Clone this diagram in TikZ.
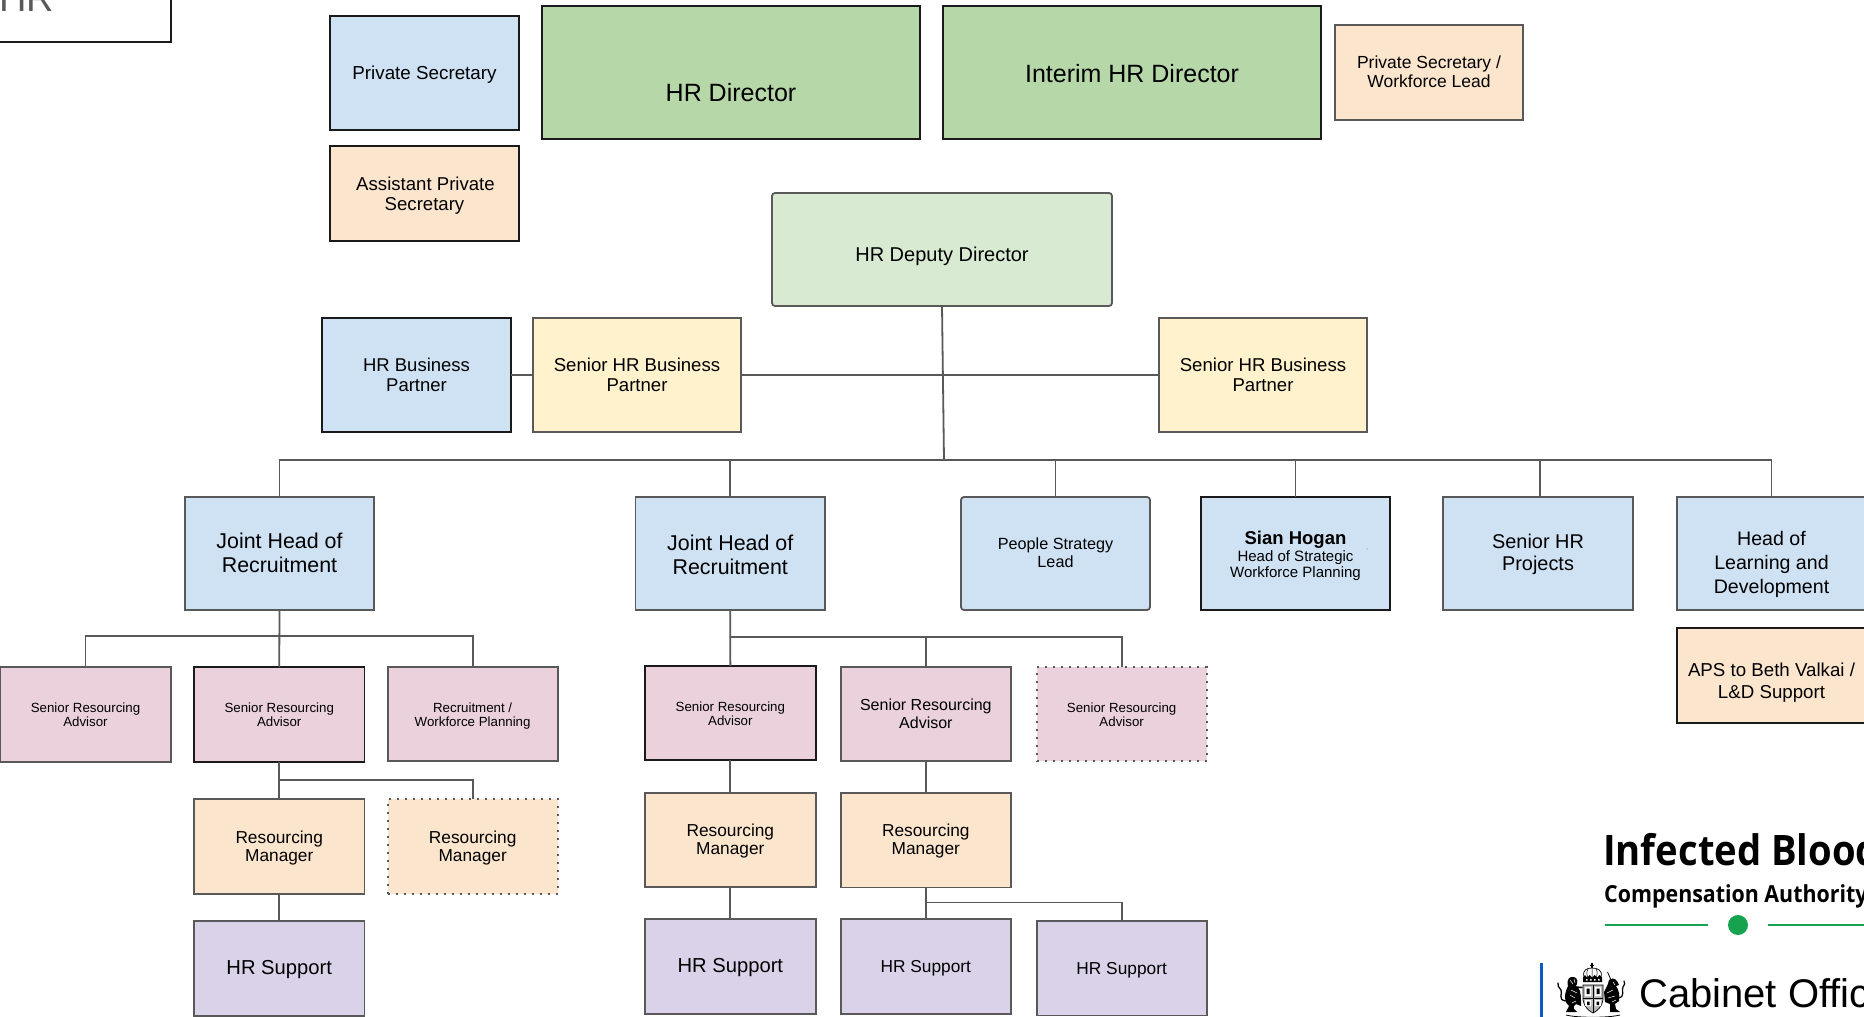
\documentclass[tikz,border=0pt]{standalone}
\usepackage{fontspec}
\setmainfont{Liberation Sans}
\newfontfamily\logofont[FakeStretch=0.91]{Open Sans}
\definecolor{cblue}{HTML}{CFE2F3}
\definecolor{cgreen}{HTML}{B6D7A8}
\definecolor{clgreen}{HTML}{D9EAD3}
\definecolor{cpeach}{HTML}{FCE5CD}
\definecolor{cyellow}{HTML}{FFF2CC}
\definecolor{cpink}{HTML}{EAD1DC}
\definecolor{cpurple}{HTML}{D9D2E9}
\definecolor{cgrey}{HTML}{595959}
\definecolor{cdark}{HTML}{1A1A1A}
\definecolor{logogreen}{HTML}{16A34F}
\definecolor{logoblue}{HTML}{0B5CC0}
\newcommand\fsz[2]{\fontsize{#1pt}{#2pt}\selectfont}
\tikzset{
  x=1pt,y=1pt,
  boxbase/.style={draw=cgrey,line width=1.8pt,inner sep=0pt,outer sep=0pt,text=black},
  darkbox/.style={draw=cdark},
  roundbox/.style={rounded corners=3pt},
  dotbox/.style={draw=cgrey,dash pattern=on 2pt off 6pt,line width=2pt},
  conn/.style={draw=cgrey,line width=1.8pt},
}
% name, x1, y1, x2, y2, style, text centre y, text
\newcommand\bx[8]{%
  \pgfmathsetmacro\bxcx{(#2+#4)/2}%
  \pgfmathsetmacro\bxcy{(#3+#5)/2}%
  \pgfmathsetmacro\bxw{#4-#2}%
  \pgfmathsetmacro\bxh{#5-#3}%
  \pgfmathsetmacro\bxdy{\bxcy-#7}%
  \node[boxbase,#6,minimum width=\bxw pt,minimum height=\bxh pt] (#1) at (\bxcx,-\bxcy)
    {\smash{\raisebox{\dimexpr\bxdy pt-.38em\relax}{\begin{tabular}[c]{@{}c@{}}#8\end{tabular}}}};%
}
\begin{document}
\begin{tikzpicture}
\useasboundingbox (0,0) rectangle (1864,-1017);
% title box
\bx{title}{-117}{-40}{171}{42}{darkbox,fill=white,text=cgrey,font=\fsz{38}{40}}{-5}{HR}
% top row
\bx{ps}{330}{16}{519}{130}{darkbox,fill=cblue,font=\fsz{18.8}{21}}{72}{Private Secretary}
\bx{aps}{330}{146}{519}{241}{darkbox,fill=cpeach,font=\fsz{18.6}{20}}{194}{\hspace{2pt}Assistant Private\\Secretary}
\bx{dir}{542}{6}{920}{139}{darkbox,fill=cgreen,font=\fsz{25}{28}}{93}{HR Director}
\bx{idir}{943}{6}{1321}{139}{darkbox,fill=cgreen,font=\fsz{25}{28}}{74}{Interim HR Director}
\bx{pswl}{1335}{25}{1523}{120}{fill=cpeach,font=\fsz{17.5}{18}}{72}{Private Secretary /\\Workforce Lead}
\bx{dep}{772}{193}{1112}{306}{roundbox,fill=clgreen,font=\fsz{20}{22}}{255}{HR Deputy Director}
% business partners
\bx{hrbp}{322}{318}{511}{432}{darkbox,fill=cblue,font=\fsz{18.5}{20}}{375}{HR Business\\Partner}
\bx{shrbpa}{533}{318}{741}{432}{fill=cyellow,font=\fsz{18.6}{20}}{375}{Senior HR Business\\Partner}
\bx{shrbpb}{1159}{318}{1367}{432}{fill=cyellow,font=\fsz{18.6}{20}}{375}{Senior HR Business\\Partner}
% heads
\bx{ja}{185}{497}{374}{610}{fill=cblue,font=\fsz{21.4}{24}}{553}{Joint Head of\\Recruitment}
\bx{jb}{635.5}{497}{825}{610}{fill=cblue,font=\fsz{21.4}{24}}{555}{Joint Head of\\Recruitment}
\bx{peo}{961}{497}{1150}{610}{roundbox,fill=cblue,font=\fsz{16.2}{18}}{553}{People Strategy\\Lead}
\bx{sian}{1201}{497}{1390}{610}{darkbox,fill=cblue,font=\fsz{15}{16.5}}{555}{{\bfseries\fontsize{18.5pt}{16.5pt}\selectfont Sian Hogan}\\Head of Strategic\\Workforce Planning}
\bx{proj}{1443}{497}{1633}{610}{fill=cblue,font=\fsz{19.9}{22}}{553}{Senior HR\\Projects}
\bx{head}{1677}{497}{1866}{610}{fill=cblue,font=\fsz{19.6}{24}}{562}{Head of\\Learning and\\Development}
\bx{apsb}{1677}{628}{1866}{723}{darkbox,fill=cpeach,font=\fsz{18.7}{22}}{680}{APS to Beth Valkai /\\L\&D Support}
% first recruitment tree
\bx{saa}{0}{667}{171}{762}{fill=cpink,font=\fsz{13.3}{14}}{715}{Senior Resourcing\\Advisor}
\bx{sab}{194}{667}{364.5}{762}{darkbox,fill=cpink,font=\fsz{13.3}{14}}{715}{Senior Resourcing\\Advisor}
\bx{rec}{387.6}{667}{557.7}{761}{fill=cpink,font=\fsz{13.3}{14}}{715}{Recruitment /\\Workforce Planning}
\bx{rma}{194}{799}{364.5}{894}{fill=cpeach,font=\fsz{17.3}{18}}{847}{Resourcing\\Manager}
\bx{rmd}{387.6}{799}{557.7}{894}{dotbox,fill=cpeach,font=\fsz{17.3}{18}}{847}{Resourcing\\Manager}
\bx{hsa}{194}{921}{364.5}{1015.7}{fill=cpurple,font=\fsz{20.2}{22}}{968}{HR Support}
% second recruitment tree
\bx{sac}{645}{666}{815.7}{760}{darkbox,fill=cpink,font=\fsz{13.3}{14}}{714}{Senior Resourcing\\Advisor}
\bx{sad}{840.7}{667}{1011}{761}{fill=cpink,font=\fsz{16}{18}}{714}{Senior Resourcing\\Advisor}
\bx{sae}{1036.6}{667}{1206.7}{761}{dotbox,fill=cpink,font=\fsz{13.3}{14}}{715}{Senior Resourcing\\Advisor}
\bx{rmb}{645}{793}{815.7}{887}{fill=cpeach,font=\fsz{17.3}{18}}{840}{Resourcing\\Manager}
\bx{rmc}{840.7}{793}{1011}{887.5}{fill=cpeach,font=\fsz{17.3}{18}}{840}{Resourcing\\Manager}
\bx{hsb}{645}{919}{815.7}{1014}{fill=cpurple,font=\fsz{20.2}{22}}{966}{HR Support}
\bx{hsc}{840.7}{919}{1011}{1014}{fill=cpurple,font=\fsz{17.3}{20}}{966}{HR Support}
\bx{hsd}{1036.6}{921}{1206.7}{1015.5}{fill=cpurple,font=\fsz{17.3}{20}}{968}{HR Support}
\fill[gray] (1367,-549) circle (.7pt);
% connectors
\coordinate (bus) at (944,-460);
\coordinate (jbbar) at (731,-637);
\draw[conn] (dep.south) -- (bus);
\draw[conn] (hrbp.east) -- (shrbpa.west);
\draw[conn] (shrbpa.east) -- (shrbpb.west);
\draw[conn] (ja.north) -- ++(0,37) -| (head.north);
\draw[conn] (jb.north) -- ++(0,37);
\draw[conn] (peo.north) -- ++(0,37);
\draw[conn] (sian.north) -- ++(0,37);
\draw[conn] ([xshift=2pt]proj.north) -- ++(0,37);
\draw[conn] (ja.south) -- (sab.north);
\draw[conn] (saa.north) -- ++(0,31) -| (rec.north);
\draw[conn] (sab.south) -- (rma.north);
\draw[conn] (rma.north) -- ++(0,19) -| (rmd.north);
\draw[conn] (rma.south) -- (hsa.north);
\draw[conn] (jb.south) -- (sac.north);
\draw[conn] (jbbar) -| (sae.north);
\draw[conn] (sad.north) -- (sad.north |- jbbar);
\draw[conn] (sac.south) -- (rmb.north);
\draw[conn] (sad.south) -- (rmc.north);
\draw[conn] (rmb.south) -- (hsb.north);
\draw[conn] (rmc.south) -- (hsc.north);
\draw[conn] ([yshift=-15pt]rmc.south) -| (hsd.north);
% logo
\node[anchor=base west,inner sep=0pt,font={\logofont\bfseries\fsz{42}{44}}] (ib) at (1603,-865) {Infected Blood};
\node[anchor=base west,inner sep=0pt,font={\logofont\bfseries\fsz{23.5}{26}}] (ca) at (1604,-902) {Compensation Authority};
\node[circle,fill=logogreen,minimum size=20pt,inner sep=0pt] (dot) at (1738,-925) {};
\coordinate (lstart) at (1605,-925);
\coordinate (lend) at (1870,-925);
\draw[logogreen,line width=1.3pt] (lstart) -- ([xshift=-20pt]dot.west);
\draw[logogreen,line width=1.3pt] ([xshift=20pt]dot.east) -- (lend);
\fill[logoblue] (1540,-963) rectangle (1543,-1017);
\node[anchor=base west,inner sep=0pt,font=\fsz{40}{42}] (cab) at (1639,-1007) {Cabinet Office};
% crest, drawn directly
\begin{scope}[yscale=-1]
  % crown
  \fill[black] (1591.3,963) rectangle (1592.7,968);
  \fill[black] (1590,964.5) rectangle (1594,965.8);
  \draw[black,line width=.7pt] (1584,977) .. controls (1582,970) and (1587,968) .. (1592,968) .. controls (1597,968) and (1603,970) .. (1601,977);
  \draw[black,line width=.5pt] (1592,968) -- (1592,977) (1588,969) .. controls (1586,972) and (1587,975) .. (1587.5,977) (1596,969) .. controls (1598,972) and (1597,975) .. (1596.5,977);
  \fill[black] (1583,977.5) -- (1585,975) -- (1587,977.5) -- (1589.5,975) -- (1592,977.5) -- (1594.5,975) -- (1597,977.5) -- (1599.5,975) -- (1602,977.5) -- (1602,982) -- (1583,982) -- cycle;
  \fill[white] (1586,979) rectangle (1587.5,980.5) (1590,979) rectangle (1591.5,980.5) (1594,979) rectangle (1595.5,980.5) (1598,979) rectangle (1599.5,980.5);
  % shield
  \fill[gray!55] (1583,985) -- (1603,985) -- (1603,1000) .. controls (1602,1007) and (1597,1011) .. (1593,1013) .. controls (1589,1011) and (1584,1007) .. (1583,1000) -- cycle;
  \draw[black,line width=.7pt] (1583,985) -- (1603,985) -- (1603,1000) .. controls (1602,1007) and (1597,1011) .. (1593,1013) .. controls (1589,1011) and (1584,1007) .. (1583,1000) -- cycle;
  \draw[black,line width=.5pt] (1593,985) -- (1593,1013) (1583,998) -- (1603,998);
  \fill[white] (1585,987) rectangle (1591,996) (1595,987) rectangle (1601,996) (1585,1000) rectangle (1591,1006) (1595,1000) rectangle (1601,1006);
  \fill[black] (1586.5,988.5) rectangle (1589.5,994) (1596.5,988.5) rectangle (1599.5,994) (1587,1001.5) rectangle (1589.5,1005) (1596.5,1001.5) rectangle (1599,1005);
  % lion
  \fill[black] (1568,986) .. controls (1566,979) and (1570,976) .. (1574,977) .. controls (1578,978) and (1578,983) .. (1576,986) .. controls (1580,988) and (1581,993) .. (1581,1001) -- (1581,1006) -- (1576,1004) .. controls (1574,1005) and (1573,1007) .. (1574,1009) -- (1577,1012) -- (1566,1012) -- (1569,1006) .. controls (1565,1003) and (1563,996) .. (1568,986) -- cycle;
  \draw[black,line width=1.5pt,line cap=round] (1576,987) -- (1582,987.5);
  \draw[black,line width=1.3pt,line cap=round] (1566,1001) .. controls (1557,1000) and (1563,993) .. (1561,990) .. controls (1559,987) and (1557,986) .. (1558,983);
  \draw[white,line width=.5pt] (1570,980) -- (1573,984) (1574,979) -- (1575,983) (1571,990) -- (1577,993) (1570,995) -- (1575,998) (1572,1003) -- (1576,1001);
  % unicorn
  \fill[black] (1609,980) .. controls (1611,978) and (1615,978) .. (1617,981) -- (1619,985) -- (1616,986) .. controls (1619,990) and (1620,996) .. (1619,1001) -- (1615,1004) -- (1616,1009) -- (1620,1012) -- (1610,1012) -- (1610,1004) -- (1605,1002) -- (1604,992) .. controls (1606,988) and (1608,985) .. (1609,980) -- cycle;
  \draw[black,line width=.8pt] (1607.5,972) -- (1611,980);
  \draw[black,line width=1.2pt,line cap=round] (1618,998) .. controls (1626,997) and (1621,990) .. (1623,987) .. controls (1625,985) and (1625,983) .. (1624,981);
  \draw[white,line width=.5pt] (1607,993) -- (1613,990) (1608,998) -- (1615,996) (1612,1002) -- (1616,1000) (1613,982) -- (1615,985);
  % ribbon
  \draw[black,line width=.8pt] (1566,1015) .. controls (1578,1018) and (1608,1018) .. (1620,1015);
\end{scope}
\end{tikzpicture}
\end{document}
